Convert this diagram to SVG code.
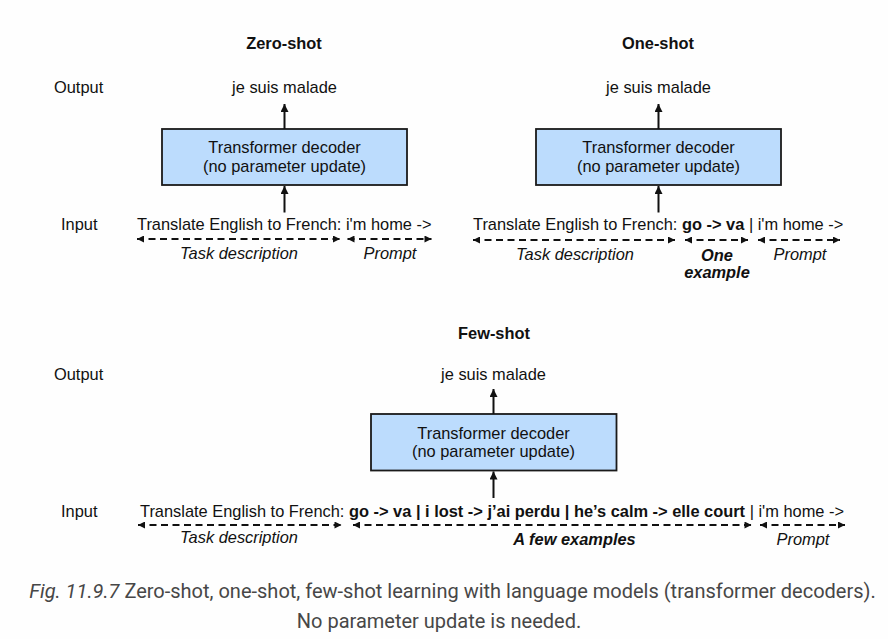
<svg xmlns="http://www.w3.org/2000/svg" width="888" height="639" viewBox="0 0 888 639">
<style>
text{font-family:"Liberation Sans",Arial,sans-serif;font-size:16.4px;fill:#111}
.c{text-anchor:middle}
.b{font-weight:bold}
.i{font-style:italic}
.box{fill:#bcdcfd;stroke:#1a1a1a;stroke-width:1.8}
.arr{stroke:#111;stroke-width:2;fill:none}
.dash{stroke:#111;stroke-width:1.8;stroke-dasharray:7 4.5;fill:none}
.cap{font-family:Roboto,"Liberation Sans",sans-serif;font-size:20px;fill:#474747}
</style>
<defs>
<marker id="ah" viewBox="0 0 10 10" refX="10" refY="5" markerUnits="userSpaceOnUse" markerWidth="9" markerHeight="8" orient="auto-start-reverse">
<path d="M0,0 L10,5 L0,10 z" fill="#111"/>
</marker>
<marker id="dh" viewBox="0 0 10 10" refX="10" refY="5" markerUnits="userSpaceOnUse" markerWidth="9" markerHeight="7" orient="auto-start-reverse">
<path d="M0,0 L10,5 L0,10 z" fill="#111"/>
</marker>
</defs>
<rect width="888" height="639" fill="#fefefe"/>

<g id="zero-shot">
<text class="c b" x="284" y="49">Zero-shot</text>
<text x="54" y="93">Output</text>
<text class="c" x="284.5" y="93">je suis malade</text>
<g id="zero-decoder">
<rect class="box" x="162" y="129" width="245" height="56"/>
<text class="c" x="284.5" y="153">Transformer decoder</text>
<text class="c" x="284.5" y="171.5">(no parameter update)</text>
</g>
<text x="61" y="230">Input</text>
<text x="137" y="230">Translate English to French: i'm home -&gt;</text>
<text class="c i" x="239" y="259">Task description</text>
<text class="c i" x="390" y="259">Prompt</text>
</g>

<g id="one-shot">
<text class="c b" x="658" y="49">One-shot</text>
<text class="c" x="658.5" y="93">je suis malade</text>
<g id="one-decoder">
<rect class="box" x="536" y="129" width="245" height="56"/>
<text class="c" x="658.5" y="153">Transformer decoder</text>
<text class="c" x="658.5" y="171.5">(no parameter update)</text>
</g>
<text x="473" y="230">Translate English to French: <tspan class="b">go -&gt; va</tspan> | i'm home -&gt;</text>
<text class="c i" x="575" y="260">Task description</text>
<text class="c i b" x="717" y="261">One</text>
<text class="c i b" x="717" y="278">example</text>
<text class="c i" x="800" y="260">Prompt</text>
</g>

<g id="few-shot">
<text class="c b" x="494" y="339">Few-shot</text>
<text x="54" y="380">Output</text>
<text class="c" x="493.5" y="380">je suis malade</text>
<g id="few-decoder">
<rect class="box" x="371" y="414" width="245.5" height="56.5"/>
<text class="c" x="493.5" y="438.5">Transformer decoder</text>
<text class="c" x="493.5" y="457">(no parameter update)</text>
</g>
<text x="61" y="516.5">Input</text>
<text x="140" y="516.5">Translate English to French: <tspan class="b">go -&gt; va | i lost -&gt; j’ai perdu | he’s calm -&gt; elle court</tspan> | i'm home -&gt;</text>
<text class="c i" x="239" y="543">Task description</text>
<text class="c i b" x="574.5" y="545">A few examples</text>
<text class="c i" x="803" y="545">Prompt</text>
</g>

<g id="connectors">
<line class="arr" x1="284.5" y1="129" x2="284.5" y2="104" marker-end="url(#ah)"/>
<line class="arr" x1="284.5" y1="212.5" x2="284.5" y2="186" marker-end="url(#ah)"/>
<line class="dash" x1="137" y1="239" x2="340" y2="239" marker-start="url(#dh)" marker-end="url(#dh)"/>
<line class="dash" x1="347.5" y1="239" x2="431.5" y2="239" marker-start="url(#dh)" marker-end="url(#dh)"/>

<line class="arr" x1="658.5" y1="129" x2="658.5" y2="104" marker-end="url(#ah)"/>
<line class="arr" x1="658.5" y1="212.5" x2="658.5" y2="186" marker-end="url(#ah)"/>
<line class="dash" x1="473" y1="240" x2="675" y2="240" marker-start="url(#dh)" marker-end="url(#dh)"/>
<line class="dash" x1="685" y1="240" x2="748" y2="240" marker-start="url(#dh)" marker-end="url(#dh)"/>
<line class="dash" x1="758" y1="240" x2="840" y2="240" marker-start="url(#dh)" marker-end="url(#dh)"/>

<line class="arr" x1="493.5" y1="414" x2="493.5" y2="389" marker-end="url(#ah)"/>
<line class="arr" x1="493.5" y1="498" x2="493.5" y2="471.5" marker-end="url(#ah)"/>
<line class="dash" x1="138" y1="525" x2="341.5" y2="525" marker-start="url(#dh)" marker-end="url(#dh)"/>
<line class="dash" x1="353" y1="525" x2="751.5" y2="525" marker-start="url(#dh)" marker-end="url(#dh)"/>
<line class="dash" x1="760" y1="525" x2="845" y2="525" marker-start="url(#dh)" marker-end="url(#dh)"/>
</g>

<text class="cap c" x="452.5" y="598"><tspan font-style="italic">Fig. 11.9.7</tspan> Zero-shot, one-shot, few-shot learning with language models (transformer decoders).</text>
<text class="cap c" x="439" y="628">No parameter update is needed.</text>
</svg>
